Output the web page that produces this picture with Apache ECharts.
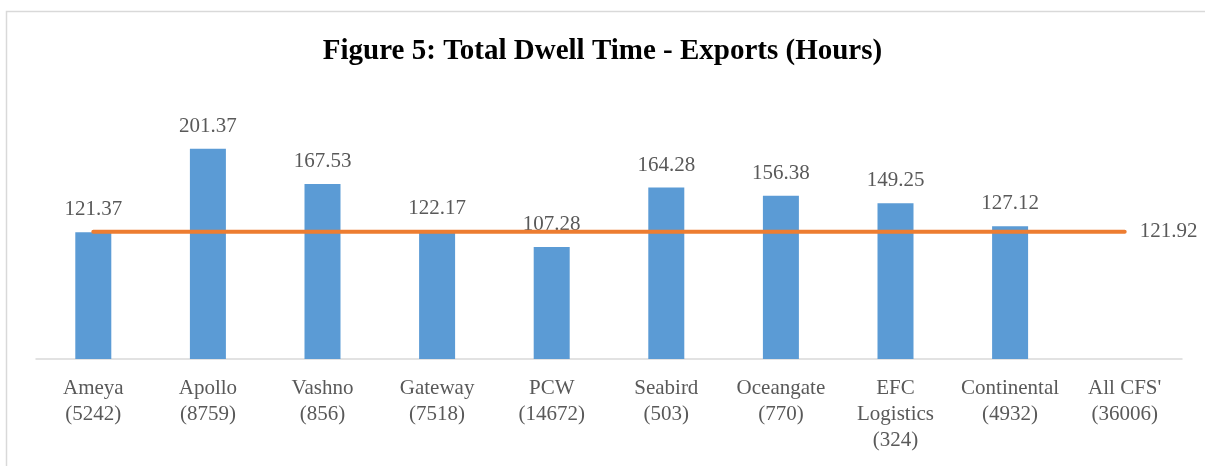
<!DOCTYPE html>
<html>
<head>
<meta charset="utf-8">
<script src="https://cdn.jsdelivr.net/npm/echarts@6/dist/echarts.min.js"></script>
<style>
  html, body { margin: 0; padding: 0; background: #fff; }
  #chart { width: 1205px; height: 466px; }
</style>
</head>
<body>
<div id="chart"></div>
<script>
const categories = [
  'Ameya\n(5242)', 'Apollo\n(8759)', 'Vashno\n(856)', 'Gateway\n(7518)',
  'PCW\n(14672)', 'Seabird\n(503)', 'Oceangate\n(770)', 'EFC\nLogistics\n(324)',
  'Continental\n(4932)', "All CFS'\n(36006)"
];
const dwellHours = [121.37, 201.37, 167.53, 122.17, 107.28, 164.28, 156.38, 149.25, 127.12, null];
const allCfsAvg = [121.92, 121.92, 121.92, 121.92, 121.92, 121.92, 121.92, 121.92, 121.92, 121.92];

const font = '"Liberation Serif", "DejaVu Serif", serif';
const grey = '#595959';

const chart = echarts.init(document.getElementById('chart'));
chart.setOption({
  animation: false,
  textStyle: { fontFamily: font },
  title: {
    text: 'Figure 5: Total Dwell Time - Exports (Hours)',
    left: 'center',
    top: 32,
    textStyle: { fontFamily: font, fontWeight: 'bold', fontSize: 29, color: '#000' }
  },
  graphic: [{
    type: 'rect',
    shape: { x: 6.5, y: 11.5, width: 1400, height: 600 },
    style: { fill: 'none', stroke: '#d9d9d9', lineWidth: 1.5 },
    silent: true
  }],
  grid: { left: 36, right: 23, top: 98, bottom: 107 },
  xAxis: {
    type: 'category',
    data: categories,
    axisLine: { lineStyle: { color: '#d9d9d9', width: 1.5 } },
    axisTick: { show: false },
    axisLabel: {
      interval: 0, color: grey, fontFamily: font, fontSize: 21,
      lineHeight: 26, margin: 16
    }
  },
  yAxis: {
    type: 'value', min: 0, max: 250, show: false,
    splitLine: { show: false }
  },
  series: [
    {
      type: 'bar',
      data: dwellHours,
      barWidth: 36,
      itemStyle: { color: '#5b9bd5' },
      label: {
        show: true, position: 'top', distance: 12,
        color: grey, fontFamily: font, fontSize: 21,
        formatter: p => p.value.toFixed(2)
      }
    },
    {
      type: 'line',
      data: allCfsAvg,
      symbol: 'none',
      lineStyle: { color: '#ed7d31', width: 4, cap: 'round' },
      endLabel: {
        show: true, distance: 15,
        color: grey, fontFamily: font, fontSize: 21,
        formatter: p => p.value.toFixed(2)
      }
    }
  ]
});
</script>
</body>
</html>
